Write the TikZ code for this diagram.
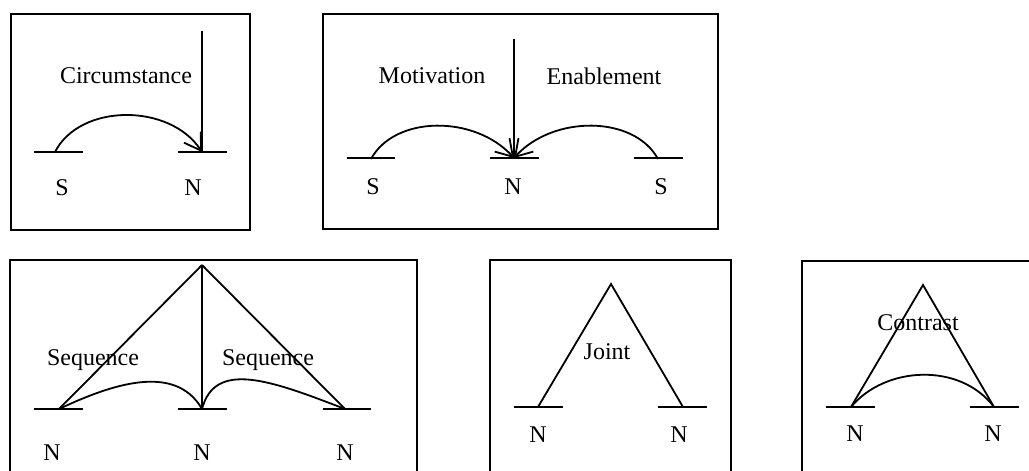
\documentclass[tikz,border=0pt]{standalone}
\usepackage{fontspec}
\setmainfont{Liberation Serif}
\usetikzlibrary{arrows.meta}
\begin{document}
\begin{tikzpicture}[x=0.5pt,y=-0.5pt,line width=0.9pt,
  lbl/.style={inner sep=0pt,font=\fontsize{12}{14}\selectfont},
  frame/.style={draw,line width=0.9pt},
  arr/.style={-{Straight Barb[length=8pt,width=10pt]}},
  bar/.style={line width=0.9pt}]
\useasboundingbox (0,0) rectangle (1029,471);
% ---------- Box 1: Circumstance
\draw[frame] (11,14) rectangle (250,230);
\coordinate (a1S) at (55,152);
\coordinate (a1N) at (202,152);
\coordinate (a1T) at (202,31);
\draw[bar] (34,152) -- (83,152);
\draw[bar] (178,152) -- (227,152);
\draw (a1T) -- (a1N);
\draw[arr] (a1S) .. controls (80,103) and (170,103) .. (a1N);
\node[lbl] (c1) at (126,76) {Circumstance};
\node[lbl] (s1) at (62,188) {S};
\node[lbl] (n1) at (193,188) {N};
% ---------- Box 2: Motivation / Enablement
\draw[frame] (323,14) rectangle (718,229);
\coordinate (b2S1) at (371,159);
\coordinate (b2N) at (514,158);
\coordinate (b2S2) at (658,159);
\coordinate (b2T) at (514,39);
\draw[bar] (347,158) -- (395,158);
\draw[bar] (490,158) -- (539,158);
\draw[bar] (634,158) -- (683,158);
\draw (b2T) -- (b2N);
\draw[arr] (b2S1) .. controls (395,115) and (475,115) .. (b2N);
\draw[arr] (b2S2) .. controls (634,115) and (553,115) .. (b2N);
\node[lbl] (m2) at (432,76) {Motivation};
\node[lbl] (e2) at (604,76) {Enablement};
\node[lbl] (s21) at (373,187) {S};
\node[lbl] (n2) at (513,187) {N};
\node[lbl] (s22) at (661,187) {S};
% ---------- Box 3: Sequence
\draw[frame] (10,475) -- (10,260) -- (417,260) -- (417,475);
\coordinate (c3T) at (202,265);
\coordinate (c3A) at (59,409);
\coordinate (c3B) at (202,409);
\coordinate (c3C) at (345,409);
\draw[bar] (34,409) -- (83,409);
\draw[bar] (178,409) -- (227,409);
\draw[bar] (323,409) -- (371,409);
\draw (c3T) -- (c3A);
\draw (c3T) -- (c3B);
\draw (c3T) -- (c3C);
\draw (c3A) .. controls (110,385) and (175,362) .. (c3B);
\draw (c3B) .. controls (215,360) and (270,380) .. (c3C);
\node[lbl] (q31) at (93,360) {Sequence};
\node[lbl] (q32) at (268,360) {Sequence};
\node[lbl] (n31) at (52,453) {N};
\node[lbl] (n32) at (202,453) {N};
\node[lbl] (n33) at (345,453) {N};
% ---------- Box 4: Joint
\draw[frame] (490,475) -- (490,260) -- (731,260) -- (731,475);
\coordinate (d4T) at (611,284);
\coordinate (d4A) at (538,407);
\coordinate (d4B) at (683,407);
\draw[bar] (514,407) -- (563,407);
\draw[bar] (658,407) -- (707,407);
\draw (d4A) -- (d4T) -- (d4B);
\node[lbl] (j4) at (607,352) {Joint};
\node[lbl] (n41) at (538,435) {N};
\node[lbl] (n42) at (679,435) {N};
% ---------- Box 5: Contrast
\draw[frame] (802,475) -- (802,261) -- (1035,261);
\coordinate (e5T) at (923,285);
\coordinate (e5A) at (851,407);
\coordinate (e5B) at (994,407);
\draw[bar] (826,407) -- (875,407);
\draw[bar] (970,407) -- (1019,407);
\draw (e5A) -- (e5T) -- (e5B);
\draw (e5A) .. controls (885,366) and (960,362) .. (e5B);
\node[lbl] (k5) at (918,323) {Contrast};
\node[lbl] (n51) at (855,434) {N};
\node[lbl] (n52) at (993,434) {N};
\end{tikzpicture}
\end{document}
